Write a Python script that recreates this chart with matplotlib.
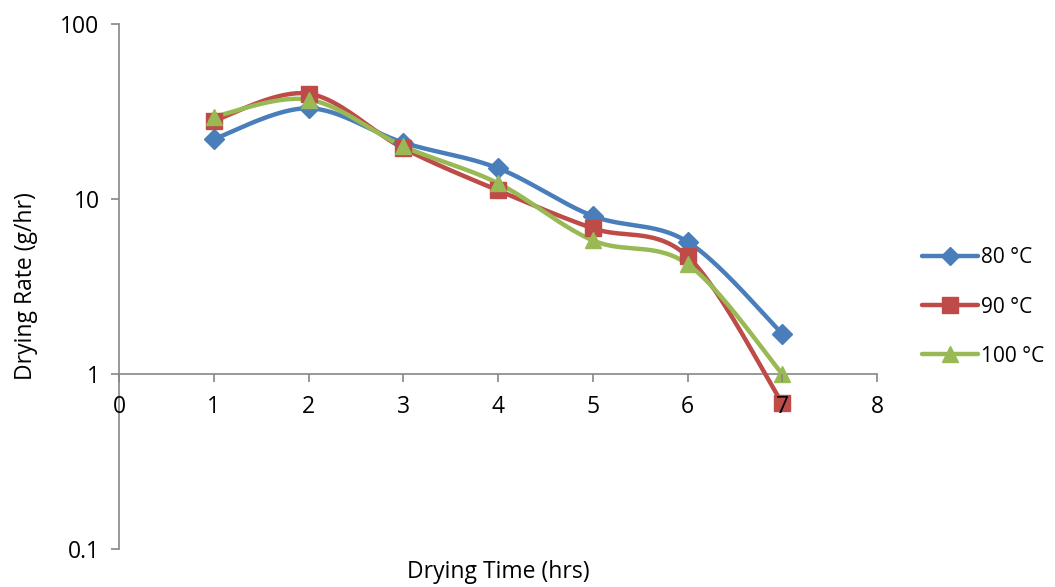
import numpy as np
import matplotlib
matplotlib.use("Agg")
import matplotlib.pyplot as plt
from matplotlib.lines import Line2D

# ---- data ----
time_hrs = [1, 2, 3, 4, 5, 6, 7]
rate_80 = [22, 33, 21, 15, 8.0, 5.7, 1.7]
rate_90 = [28, 40, 19.5, 11.2, 6.8, 4.7, 0.68]
rate_100 = [29.5, 37, 20, 12.3, 5.8, 4.25, 1.0]
series_labels = ["80 °C", "90 °C", "100 °C"]
x_ticks = [0, 1, 2, 3, 4, 5, 6, 7, 8]
y_ticks = [0.1, 1, 10, 100]
y_tick_labels = ["0.1", "1", "10", "100"]

colors = ["#4A7EBB", "#BE4B48", "#98B954"]
markers = ["D", "s", "^"]
msizes = [10.5, 12, 12]

plt.rcParams['font.family'] = ['Open Sans', 'DejaVu Sans']
FS = 16.5


def smooth(xs, ys, n=40):
    """Excel-like Catmull-Rom Bezier smoothing in (x, log y) space."""
    P = np.column_stack([np.asarray(xs, float), np.log10(np.asarray(ys, float))])
    ext = np.vstack([P[0], P, P[-1]])
    out = []
    t = np.linspace(0, 1, n)[:, None]
    for i in range(len(P) - 1):
        p0, p1, p2, p3 = ext[i], ext[i + 1], ext[i + 2], ext[i + 3]
        c1 = p1 + (p2 - p0) / 6.0
        c2 = p2 - (p3 - p1) / 6.0
        seg = ((1 - t) ** 3) * p1 + 3 * ((1 - t) ** 2) * t * c1 + 3 * (1 - t) * t ** 2 * c2 + t ** 3 * p2
        out.append(seg if i == 0 else seg[1:])
    C = np.vstack(out)
    return C[:, 0], 10 ** C[:, 1]


fig = plt.figure(figsize=(10.55, 5.87), dpi=100)
ax = fig.add_axes([119 / 1055, 1 - 549 / 587, (877 - 119) / 1055, (549 - 24) / 587])

handles = []
for ys, c, m, ms, lab in zip([rate_80, rate_90, rate_100], colors, markers, msizes, series_labels):
    sx, sy = smooth(time_hrs, ys)
    ax.plot(sx, sy, color=c, lw=3.2, solid_capstyle='round', zorder=3)
    ax.plot(time_hrs, ys, linestyle='none', marker=m, color=c, markersize=ms,
            markeredgecolor=c, zorder=4)
    handles.append(Line2D([0], [0], color=c, lw=3.2, marker=m, markersize=ms - 1,
                          markeredgecolor=c, solid_capstyle='round'))

ax.set_yscale('log')
ax.set_ylim(0.1, 100)
ax.set_xlim(0, 8)
ax.set_xticks(x_ticks)
ax.set_yticks(y_ticks)
ax.set_yticklabels(y_tick_labels)
ax.yaxis.set_minor_locator(matplotlib.ticker.NullLocator())

axis_col = "#868686"
for s in ['top', 'right']:
    ax.spines[s].set_visible(False)
ax.spines['bottom'].set_position(('data', 1))
ax.spines['bottom'].set_color(axis_col)
ax.spines['left'].set_color(axis_col)
ax.spines['bottom'].set_linewidth(1.2)
ax.spines['left'].set_linewidth(1.2)
ax.tick_params(axis='both', colors=axis_col, length=6, width=1.2, labelcolor='black',
               labelsize=FS)
ax.tick_params(axis='x', pad=9)
ax.tick_params(axis='y', pad=8)
ax.xaxis.set_zorder(5)

ax.set_xlabel("Drying Time (hrs)", fontsize=FS)
ax.xaxis.set_label_coords(0.5, -0.021)
ax.set_ylabel("Drying Rate (g/hr)", fontsize=FS)
ax.yaxis.set_label_coords(-0.107, 0.5)

fig.legend(handles, series_labels, loc='center left', bbox_to_anchor=(0.874, 0.477),
           frameon=False, fontsize=15, labelspacing=1.35, handlelength=2.7,
           handletextpad=0.15, borderpad=0, borderaxespad=0)

fig.savefig("out.png", dpi=100)
